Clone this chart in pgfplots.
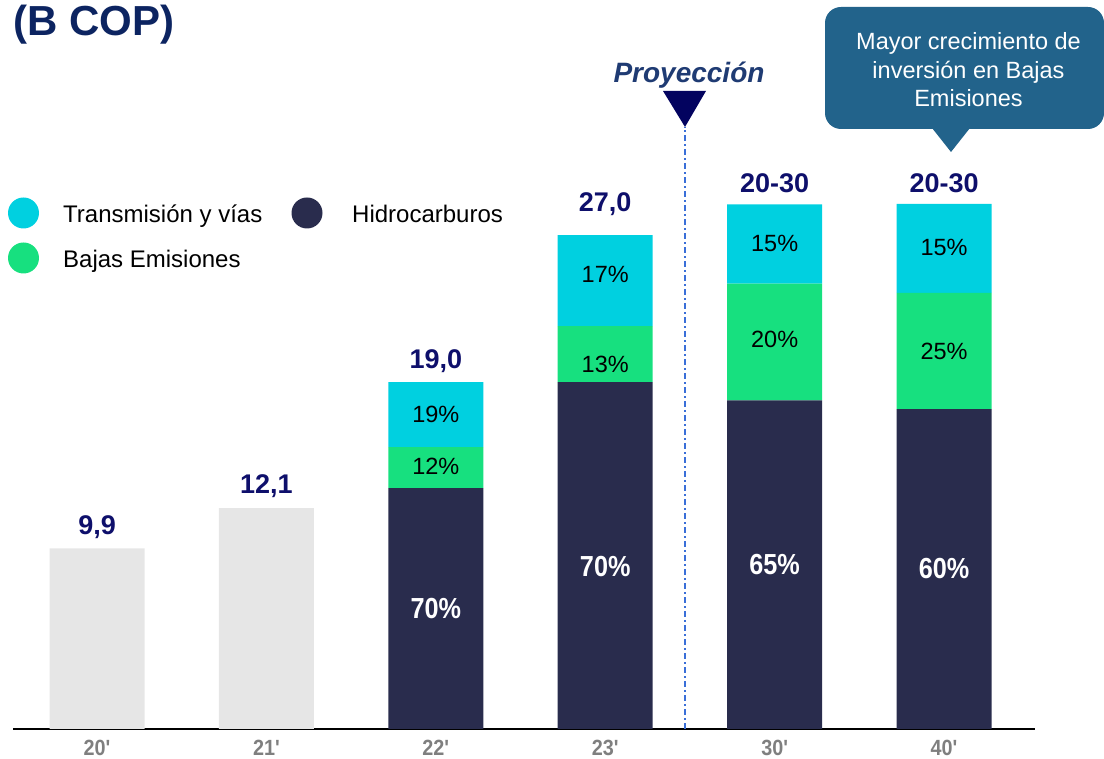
\documentclass[border=0pt]{standalone}
\usepackage{fontspec}
\setmainfont{Liberation Sans}
\newfontfamily\narrowbf[FakeStretch=0.87]{Liberation Sans Bold}
\newfontfamily\tickbf[FakeStretch=0.9]{Liberation Sans Bold}
\usepackage{pgfplots}
\pgfplotsset{compat=1.18}
\definecolor{graybar}{HTML}{E6E6E6}
\definecolor{navybar}{HTML}{292C4D}
\definecolor{greenbar}{HTML}{17E07F}
\definecolor{cyanbar}{HTML}{00D0E0}
\definecolor{valnavy}{HTML}{0E0F6B}
\definecolor{titlenavy}{HTML}{0C2461}
\definecolor{proyc}{HTML}{1F3B73}
\definecolor{trinavy}{HTML}{03035F}
\definecolor{dashc}{HTML}{3A6FD8}
\definecolor{callout}{HTML}{22638B}
\definecolor{tickgray}{HTML}{7F7F7F}
\tikzset{
  valstyle/.style={inner sep=0pt, anchor=base, text=valnavy, font=\bfseries\fontsize{27}{27}\selectfont},
  pctstyle/.style={inner sep=0pt, anchor=base, text=black, font=\fontsize{23.5}{23.5}\selectfont},
  whstyle/.style={inner sep=0pt, anchor=base, text=white, font=\narrowbf\fontsize{29}{29}\selectfont},
  legstyle/.style={inner sep=0pt, anchor=base west, font=\fontsize{24}{24}\selectfont},
  calstyle/.style={inner sep=0pt, anchor=base, text=white, font=\fontsize{23.5}{23.5}\selectfont},
}
\begin{document}
\begin{tikzpicture}
\useasboundingbox (0pt,0pt) rectangle (1104pt,759pt);
\begin{axis}[
  at={(13pt,30pt)}, anchor=south west,
  scale only axis, width=1022pt, height=547.5pt,
  xmin=-0.496, xmax=5.537, ymin=0, ymax=30,
  ybar stacked, bar width=95pt,
  axis x line=bottom, axis y line=none,
  x axis line style={-, line width=2.7pt, black},
  xtick={0,1,2,3,4,5},
  xticklabels={20',21',22',23',30',40'},
  xtick style={draw=none}, major tick length=0pt,
  ytick=\empty,
  xticklabel style={font=\tickbf\fontsize{22}{22}\selectfont, text=tickgray, inner sep=0pt, yshift=-10.5pt},
  clip=false,
]
\addplot[fill=graybar, draw=none] coordinates {(0,9.9)(1,12.1)(2,0)(3,0)(4,0)(5,0)};
\addplot[fill=navybar, draw=none] coordinates {(0,0)(1,0)(2,13.2)(3,19.0)(4,18.0)(5,17.53)};
\addplot[fill=greenbar, draw=none] coordinates {(0,0)(1,0)(2,2.25)(3,3.07)(4,6.41)(5,6.36)};
\addplot[fill=cyanbar, draw=none] coordinates {(0,0)(1,0)(2,3.56)(3,4.99)(4,4.33)(5,4.88)};
\coordinate (dl0) at (axis cs:3.471,0);
\coordinate (dl1) at (axis cs:3.471,32.99);
\coordinate (v0) at (axis cs:0,10.63);
\coordinate (v1) at (axis cs:1,12.88);
\coordinate (v2) at (axis cs:2,19.73);
\coordinate (v3) at (axis cs:3,28.33);
\coordinate (v4) at (axis cs:4,29.37);
\coordinate (v5) at (axis cs:5,29.37);
\coordinate (c2) at (axis cs:2,16.82);
\coordinate (g2) at (axis cs:2,13.97);
\coordinate (c3) at (axis cs:3,24.44);
\coordinate (g3) at (axis cs:3,19.51);
\coordinate (c4) at (axis cs:4,26.19);
\coordinate (g4) at (axis cs:4,20.88);
\coordinate (c5) at (axis cs:5,25.92);
\coordinate (g5) at (axis cs:5,20.27);
\coordinate (h2) at (axis cs:2,6.08);
\coordinate (h3) at (axis cs:3,8.38);
\coordinate (h4) at (axis cs:4,8.44);
\coordinate (h5) at (axis cs:5,8.22);
\end{axis}
\draw[dashc, line width=1.2pt, dash pattern=on 5.5pt off 3.5pt on 1.5pt off 3.5pt] (dl0) -- (dl1);
\node[valstyle] at (v0) {9,9};
\node[valstyle] at (v1) {12,1};
\node[valstyle] at (v2) {19,0};
\node[valstyle] at (v3) {27,0};
\node[valstyle] at (v4) {20-30};
\node[valstyle] at (v5) {20-30};
\node[pctstyle] at (c2) {19\%};
\node[pctstyle] at (g2) {12\%};
\node[pctstyle] at (c3) {17\%};
\node[pctstyle] at (g3) {13\%};
\node[pctstyle] at (c4) {15\%};
\node[pctstyle] at (g4) {20\%};
\node[pctstyle] at (c5) {15\%};
\node[pctstyle] at (g5) {25\%};
\node[whstyle] at (h2) {70\%};
\node[whstyle] at (h3) {70\%};
\node[whstyle] at (h4) {65\%};
\node[whstyle] at (h5) {60\%};
\node[anchor=base west, inner sep=0pt, text=titlenavy, font=\bfseries\fontsize{42}{42}\selectfont] at (13pt,723pt) {(B COP)};
\fill[cyanbar] (23.5pt,546pt) circle (15.5pt);
\fill[navybar] (307pt,546pt) circle (15.5pt);
\fill[greenbar] (23.5pt,501pt) circle (15.5pt);
\node[legstyle] at (63pt,536pt) {Transmisión y vías};
\node[legstyle] at (352pt,536pt) {Hidrocarburos};
\node[legstyle] at (63pt,491pt) {Bajas Emisiones};
\node[anchor=base, inner sep=0pt, text=proyc, font=\bfseries\itshape\fontsize{28}{28}\selectfont] at (689pt,676pt) {Proyección};
\fill[trinavy] (663pt,668pt) -- (706pt,668pt) -- (685pt,632pt) -- cycle;
\fill[callout, rounded corners=16pt] (825pt,630pt) rectangle (1104pt,752pt);
\fill[callout] (932pt,631pt) -- (970pt,631pt) -- (951pt,607pt) -- cycle;
\node[calstyle] at (968.5pt,709pt) {Mayor crecimiento de};
\node[calstyle] at (968.5pt,680.5pt) {inversión en Bajas};
\node[calstyle] at (968.5pt,652pt) {Emisiones};
\end{tikzpicture}
\end{document}
